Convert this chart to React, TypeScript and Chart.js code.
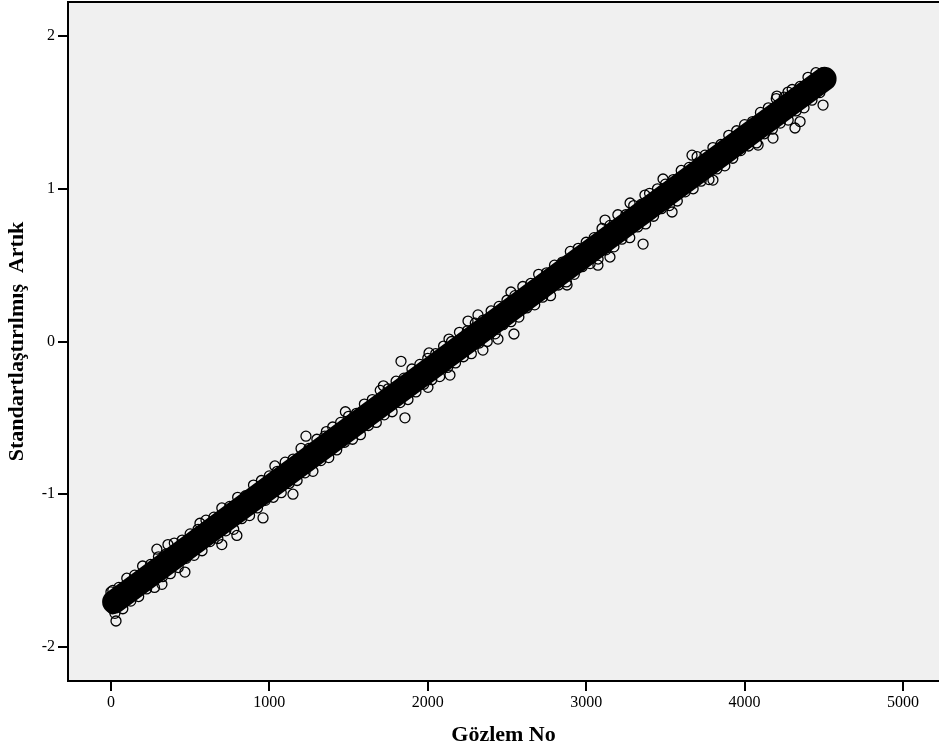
import React, { useEffect, useRef } from "react";
import { Chart, registerables } from "chart.js";

Chart.register(...registerables);

// ---- axis text ----
const xTitle = "Gözlem No";
const yTitle = "Standartlaştırılmış  Artık";
const xTicks = [0, 1000, 2000, 3000, 4000, 5000];
const yTicks = [-2, -1, 0, 1, 2];

// ---- dense core of the scatter (thousands of overlapping points read as a solid band) ----
const coreObs = [20, 500, 1000, 1500, 2000, 2500, 3000, 3500, 4000, 4505];
const coreResid = [-1.705, -1.338, -0.956, -0.574, -0.192, 0.19, 0.572, 0.954, 1.336, 1.72];

// ---- points along the upper edge of the band ----
const upperObs = [
  0, 50, 100, 150, 200, 250, 300, 350, 400, 450,
  500, 550, 600, 650, 700, 750, 800, 850, 900, 950,
  1000, 1050, 1100, 1150, 1200, 1250, 1300, 1350, 1400, 1450,
  1500, 1550, 1600, 1650, 1700, 1750, 1800, 1850, 1900, 1950,
  2000, 2050, 2100, 2150, 2200, 2250, 2300, 2350, 2400, 2450,
  2500, 2550, 2600, 2650, 2700, 2750, 2800, 2850, 2900, 2950,
  3000, 3050, 3100, 3150, 3200, 3250, 3300, 3350, 3400, 3450,
  3500, 3550, 3600, 3650, 3700, 3750, 3800, 3850, 3900, 3950,
  4000, 4050, 4100, 4150, 4200, 4250, 4300, 4350, 4400, 4450,
  4500,
];
const upperResid = [
  -1.64, -1.61, -1.55, -1.53, -1.47, -1.46, -1.41, -1.39, -1.32, -1.3,
  -1.26, -1.23, -1.17, -1.15, -1.09, -1.08, -1.02, -1.01, -0.94, -0.91,
  -0.88, -0.85, -0.79, -0.77, -0.7, -0.7, -0.64, -0.62, -0.56, -0.53,
  -0.49, -0.47, -0.41, -0.38, -0.32, -0.31, -0.26, -0.24, -0.18, -0.15,
  -0.11, -0.08, -0.03, 0.0, 0.06, 0.07, 0.12, 0.14, 0.2, 0.23,
  0.27, 0.3, 0.36, 0.38, 0.44, 0.45, 0.5, 0.52, 0.59, 0.61,
  0.65, 0.68, 0.74, 0.76, 0.83, 0.83, 0.89, 0.9, 0.97, 1.0,
  1.03, 1.06, 1.12, 1.14, 1.21, 1.22, 1.27, 1.29, 1.35, 1.38,
  1.42, 1.44, 1.5, 1.53, 1.59, 1.6, 1.65, 1.67, 1.73, 1.76,
  1.76,
];

// ---- points along the lower edge of the band ----
const lowerObs = [
  25, 75, 125, 175, 225, 275, 325, 375, 425, 475,
  525, 575, 625, 675, 725, 775, 825, 875, 925, 975,
  1025, 1075, 1125, 1175, 1225, 1275, 1325, 1375, 1425, 1475,
  1525, 1575, 1625, 1675, 1725, 1775, 1825, 1875, 1925, 1975,
  2025, 2075, 2125, 2175, 2225, 2275, 2325, 2375, 2425, 2475,
  2525, 2575, 2625, 2675, 2725, 2775, 2825, 2875, 2925, 2975,
  3025, 3075, 3125, 3175, 3225, 3275, 3325, 3375, 3425, 3475,
  3525, 3575, 3625, 3675, 3725, 3775, 3825, 3875, 3925, 3975,
  4025, 4075, 4125, 4175, 4225, 4275, 4325, 4375, 4425, 4475,
];
const lowerResid = [
  -1.78, -1.75, -1.7, -1.67, -1.62, -1.61, -1.54, -1.52, -1.48, -1.42,
  -1.4, -1.37, -1.31, -1.29, -1.24, -1.23, -1.16, -1.14, -1.09, -1.04,
  -1.02, -0.99, -0.93, -0.91, -0.86, -0.85, -0.78, -0.76, -0.71, -0.66,
  -0.64, -0.61, -0.55, -0.53, -0.48, -0.46, -0.4, -0.38, -0.33, -0.28,
  -0.25, -0.23, -0.17, -0.14, -0.1, -0.08, -0.01, 0.0, 0.05, 0.11,
  0.13, 0.16, 0.22, 0.24, 0.29, 0.3, 0.37, 0.39, 0.44, 0.49,
  0.51, 0.54, 0.6, 0.62, 0.67, 0.68, 0.75, 0.77, 0.82, 0.87,
  0.89, 0.92, 0.98, 1.0, 1.05, 1.06, 1.13, 1.15, 1.2, 1.25,
  1.28, 1.3, 1.36, 1.39, 1.43, 1.45, 1.51, 1.53, 1.58, 1.63,
];

// ---- ends of the band ----
const endObs = [5, 10, 15, 12, 4490, 4500, 4510, 4515];
const endResid = [-1.7, -1.75, -1.66, -1.63, 1.68, 1.75, 1.7, 1.74];

// ---- scattered points away from the band ----
const outlierObs = [
  32, 290, 360, 322, 467, 562, 700, 795, 960, 1035,
  1149, 1231, 1360, 1480, 1720, 1831, 1856, 2001, 2008, 2134,
  2140, 2254, 2317, 2348, 2443, 2525, 2544, 2879, 3074, 3119,
  3150, 3277, 3359, 3371, 3485, 3542, 3668, 3800, 4085, 4179,
  4204, 4274, 4318, 4350, 4495,
];
const outlierResid = [
  -1.83, -1.36, -1.33, -1.59, -1.51, -1.19, -1.33, -1.27, -1.155, -0.815,
  -1.0, -0.62, -0.59, -0.46, -0.29, -0.13, -0.5, -0.3, -0.075, 0.016,
  -0.22, 0.134, 0.174, -0.056, 0.016, 0.324, 0.049, 0.37, 0.5, 0.795,
  0.553, 0.907, 0.638, 0.959, 1.064, 0.848, 1.22, 1.057, 1.286, 1.332,
  1.607, 1.633, 1.398, 1.44, 1.548,
];

const X_MIN = -271;
const X_MAX = 5227;
const Y_MIN = -2.223;
const Y_MAX = 2.223;

const zip = (xs: number[], ys: number[]) => xs.map((x, i) => ({ x, y: ys[i] }));

export default function App() {
  const ref = useRef<HTMLCanvasElement>(null);

  useEffect(() => {
    const canvas = ref.current;
    if (!canvas) return;
    const serif = "'Liberation Serif', 'Times New Roman', serif";

    const frame = {
      id: "frame",
      beforeDraw(chart: any) {
        const { ctx, chartArea: a } = chart;
        ctx.save();
        ctx.fillStyle = "#f0f0f0";
        ctx.fillRect(a.left, a.top, a.right - a.left, a.bottom - a.top);
        ctx.restore();
      },
      afterDraw(chart: any) {
        const { ctx, chartArea: a } = chart;
        ctx.save();
        ctx.strokeStyle = "#000";
        ctx.lineWidth = 2;
        ctx.beginPath();
        ctx.moveTo(a.left, a.top);
        ctx.lineTo(a.right, a.top);
        ctx.stroke();
        ctx.restore();
      },
    };

    const points = [
      ...zip(upperObs, upperResid),
      ...zip(lowerObs, lowerResid),
      ...zip(endObs, endResid),
      ...zip(outlierObs, outlierResid),
    ];

    const chart = new Chart(canvas, {
      type: "scatter",
      data: {
        datasets: [
          {
            type: "line",
            data: zip(coreObs, coreResid),
            borderColor: "#000",
            borderWidth: 24,
            borderCapStyle: "round",
            borderJoinStyle: "round",
            pointRadius: 0,
            showLine: true,
            fill: false,
            tension: 0,
          } as any,
          {
            data: points,
            pointRadius: 5,
            pointBorderWidth: 1.3,
            borderColor: "#000",
            backgroundColor: "rgba(0,0,0,0)",
            pointBackgroundColor: "rgba(0,0,0,0)",
            pointBorderColor: "#000",
          } as any,
        ],
      },
      options: {
        responsive: false,
        animation: false,
        devicePixelRatio: 1,
        layout: { autoPadding: false, padding: { top: 2, right: 0, left: 0, bottom: 0 } },
        plugins: { legend: { display: false }, tooltip: { enabled: false } },
        scales: {
          x: {
            type: "linear",
            min: X_MIN,
            max: X_MAX,
            afterBuildTicks: (s: any) => {
              s.ticks = xTicks.map((v) => ({ value: v }));
            },
            afterFit: (s: any) => {
              s.height = 74;
              s.paddingLeft = 0;
              s.paddingRight = 0;
            },
            ticks: {
              font: { family: serif, size: 16 },
              color: "#000",
              padding: 2,
              maxRotation: 0,
              callback: (v: any) => String(v),
            },
            grid: {
              display: true,
              drawOnChartArea: false,
              drawTicks: true,
              tickLength: 10,
              color: "#000",
              lineWidth: 2,
            },
            border: { display: true, color: "#000", width: 2 },
            title: {
              display: true,
              text: xTitle,
              color: "#000",
              font: { family: serif, size: 22, weight: "bold" },
              padding: { top: 0, bottom: 6 },
            },
          },
          y: {
            type: "linear",
            min: Y_MIN,
            max: Y_MAX,
            afterBuildTicks: (s: any) => {
              s.ticks = yTicks.map((v) => ({ value: v }));
            },
            afterFit: (s: any) => {
              s.width = 68;
              s.paddingTop = 0;
              s.paddingBottom = 0;
            },
            ticks: {
              font: { family: serif, size: 16 },
              color: "#000",
              padding: 3,
              callback: (v: any) => String(v),
            },
            grid: {
              display: true,
              drawOnChartArea: false,
              drawTicks: true,
              tickLength: 10,
              color: "#000",
              lineWidth: 2,
            },
            border: { display: true, color: "#000", width: 2 },
            title: {
              display: true,
              text: yTitle,
              color: "#000",
              font: { family: serif, size: 22, weight: "bold" },
              padding: { top: 4, bottom: 0 },
            },
          },
        },
      } as any,
      plugins: [frame],
    });

    return () => chart.destroy();
  }, []);

  return (
    <div style={{ position: "absolute", left: 0, top: 0, width: 939, height: 755 }}>
      <canvas ref={ref} width={939} height={755} style={{ display: "block" }} />
    </div>
  );
}
